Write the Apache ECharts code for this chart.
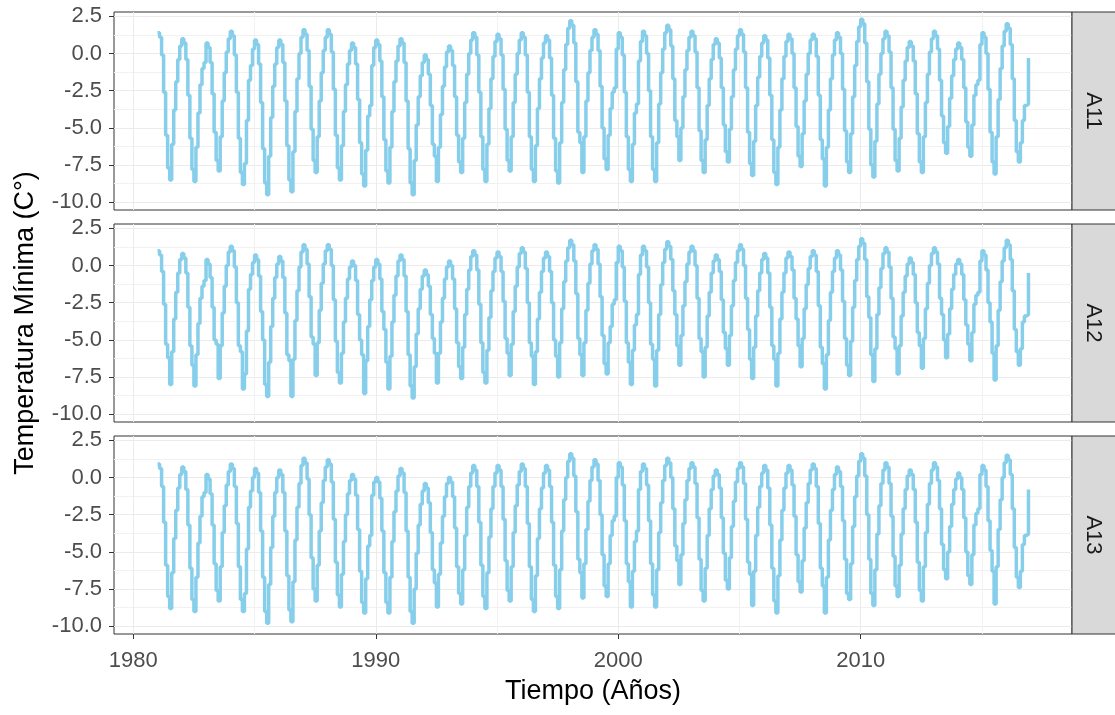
<!DOCTYPE html>
<html>
<head>
<meta charset="utf-8">
<script src="https://cdn.jsdelivr.net/npm/echarts@6/dist/echarts.min.js"></script>
<style>
html,body{margin:0;padding:0;background:#fff;}
#chart{width:1115px;height:715px;}
</style>
</head>
<body>
<div id="chart"></div>
<script>
// ---- data: monthly minimum temperature (°C), one row per year, Jan..Dec ----
const startYear = 1981;
const stations = ['A11', 'A12', 'A13'];
const xTicks = [1980, 1990, 2000, 2010];
const xMinorTicks = [1985, 1995, 2005, 2015];
const yTicks = [-10, -7.5, -5, -2.5, 0, 2.5];
const yMinorTicks = [-8.75, -6.25, -3.75, -1.25, 1.25];

const a11 = [
[1.4,1.1,-0.1,-2.6,-5.5,-7.7,-8.5,-6.1,-3.8,-1.9,-0.4,0.5],
[1.0,0.7,-0.4,-2.8,-5.7,-7.8,-8.6,-6.3,-4.0,-2.1,-1.0,-0.6],
[0.7,0.4,-0.6,-2.7,-5.3,-7.2,-7.9,-5.6,-3.2,-1.3,0.1,1.0],
[1.5,1.2,-0.1,-2.6,-5.7,-8.0,-8.8,-7.4,-4.5,-1.8,-0.8,0.3],
[0.9,0.6,-0.7,-3.3,-6.4,-8.7,-9.5,-6.9,-4.3,-2.2,-0.7,0.4],
[0.9,0.6,-0.6,-3.2,-6.2,-8.5,-9.3,-6.6,-3.9,-1.7,0.0,1.1],
[1.6,1.3,0.2,-2.2,-5.1,-7.2,-8.0,-5.6,-3.2,-1.3,0.2,1.1],
[1.6,1.3,0.1,-2.4,-5.5,-7.7,-8.5,-6.2,-3.9,-2.1,-0.7,0.2],
[0.7,0.4,-0.7,-3.1,-6.0,-8.1,-8.9,-6.5,-4.2,-3.5,-0.8,0.4],
[0.9,0.6,-0.5,-2.9,-5.8,-7.9,-8.7,-6.3,-3.9,-1.9,-0.5,0.5],
[1.0,0.7,-0.6,-3.2,-6.4,-8.7,-9.5,-7.2,-4.8,-2.9,-1.5,-0.6],
[-0.1,-0.4,-1.4,-3.5,-6.1,-6.9,-8.6,-6.3,-4.1,-2.2,-0.9,0.1],
[0.5,0.2,-0.8,-2.9,-5.5,-7.3,-8.0,-5.7,-3.3,-1.4,0.0,0.9],
[1.4,1.1,-0.1,-2.6,-5.6,-7.8,-8.6,-6.1,-3.7,-1.7,-0.2,0.8],
[1.3,1.0,-0.1,-2.4,-5.1,-7.2,-7.9,-5.6,-3.3,-1.4,0.0,0.9],
[1.4,1.1,-0.1,-2.6,-5.6,-7.8,-8.6,-6.2,-3.7,-1.7,-0.3,0.7],
[1.2,0.9,-0.3,-2.8,-5.7,-7.9,-8.7,-6.0,-3.3,-1.1,0.6,1.7],
[2.2,1.9,0.7,-1.9,-5.3,-6.0,-8.0,-5.6,-3.2,-1.3,0.2,1.1],
[1.6,1.3,0.2,-2.2,-5.0,-7.1,-7.8,-5.5,-3.7,-2.6,-2.3,0.3],
[1.4,1.1,-0.1,-2.6,-5.6,-7.8,-8.6,-6.1,-4.0,-3.4,-0.5,0.8],
[1.5,1.2,0.0,-2.5,-5.6,-7.8,-8.6,-6.0,-3.4,-1.3,0.3,1.4],
[1.9,1.6,0.5,-1.7,-4.5,-5.6,-7.2,-5.0,-2.9,-1.1,0.2,1.1],
[1.5,1.2,0.1,-2.3,-5.2,-7.2,-8.0,-5.8,-3.5,-1.7,-0.4,0.6],
[1.0,0.7,-0.3,-2.3,-4.8,-6.6,-7.3,-5.1,-2.9,-1.1,0.3,1.2],
[1.6,1.3,0.1,-2.3,-5.3,-7.4,-8.2,-5.9,-3.5,-1.6,-0.2,0.7],
[1.2,0.9,-0.3,-2.8,-5.8,-8.0,-8.8,-6.3,-3.8,-1.7,-0.2,0.8],
[1.3,1.0,0.0,-2.3,-4.9,-6.9,-7.6,-5.4,-3.2,-1.4,0.0,0.9],
[1.3,1.0,-0.2,-2.8,-5.8,-7.1,-8.9,-6.3,-3.8,-1.7,-0.1,0.9],
[1.4,1.1,0.0,-2.4,-5.2,-7.3,-8.0,-5.4,-2.9,-0.8,0.8,1.8],
[2.3,2.0,0.7,-1.9,-5.1,-7.5,-8.3,-5.9,-3.4,-1.4,0.0,1.0],
[1.5,1.2,0.1,-2.3,-5.1,-7.2,-7.9,-5.7,-3.6,-1.8,-0.5,0.4],
[0.8,0.5,-0.5,-2.7,-5.4,-7.3,-8.0,-5.6,-3.3,-1.4,0.1,1.0],
[1.5,1.2,0.3,-1.8,-4.2,-6.0,-6.7,-4.9,-3.0,-1.5,-0.4,0.3],
[0.7,0.4,-0.4,-2.3,-4.6,-6.3,-6.9,-4.8,-2.8,-2.1,-1.8,0.6],
[1.4,1.1,0.0,-2.4,-5.3,-7.3,-8.1,-5.6,-3.1,-1.0,0.5,1.5],
[2.0,1.7,0.6,-1.7,-4.5,-6.6,-7.3,-6.0,-4.5,-3.5,-3.4,-0.3]
];

const a12 = [
[1.0,0.7,-0.4,-2.6,-5.3,-6.2,-8.0,-5.8,-3.6,-1.8,-0.5,0.4],
[0.8,0.5,-0.5,-2.8,-5.4,-6.7,-8.1,-6.0,-3.9,-2.2,-1.4,-1.0],
[0.4,0.1,-0.8,-2.8,-5.0,-5.3,-7.6,-5.4,-3.2,-1.4,0.0,0.9],
[1.3,1.0,-0.1,-2.5,-5.4,-5.8,-8.3,-7.3,-4.4,-1.6,-0.6,0.2],
[0.7,0.4,-0.7,-3.1,-5.0,-8.0,-8.8,-6.5,-4.1,-2.2,-0.8,0.1],
[0.6,0.3,-0.8,-3.2,-6.0,-6.4,-8.8,-6.3,-3.7,-1.7,-0.1,0.9],
[1.4,1.1,0.1,-2.1,-4.8,-5.3,-7.4,-5.2,-3.0,-1.2,0.1,1.0],
[1.4,1.1,0.0,-2.3,-5.1,-7.2,-7.9,-5.9,-3.8,-2.2,-0.9,-0.1],
[0.3,0.0,-1.0,-3.3,-5.0,-6.0,-8.6,-6.4,-4.1,-2.3,-1.0,-0.1],
[0.4,0.1,-0.9,-3.1,-4.3,-6.5,-8.3,-6.1,-3.8,-2.0,-0.7,0.3],
[0.7,0.4,-0.7,-3.1,-6.0,-8.1,-8.9,-6.8,-4.6,-2.9,-1.6,-0.7],
[-0.3,-0.6,-1.4,-3.3,-4.9,-5.9,-7.9,-5.9,-3.8,-2.2,-0.9,-0.1],
[0.3,0.0,-0.9,-2.9,-5.2,-6.8,-7.6,-5.5,-3.3,-1.6,-0.3,0.6],
[1.0,0.7,-0.3,-2.6,-5.2,-7.2,-7.9,-5.7,-3.5,-1.7,-0.4,0.5],
[0.9,0.6,-0.4,-2.4,-4.9,-5.9,-7.4,-5.3,-3.1,-1.4,-0.1,0.8],
[1.2,0.9,-0.2,-2.5,-5.2,-6.1,-8.0,-5.8,-3.6,-1.8,-0.4,0.5],
[0.9,0.6,-0.4,-2.5,-5.0,-6.1,-7.5,-5.2,-2.9,-1.1,0.3,1.2],
[1.7,1.4,0.3,-1.9,-4.9,-6.0,-7.4,-5.2,-3.0,-1.2,0.1,1.0],
[1.4,1.1,0.1,-2.1,-4.7,-6.6,-7.3,-5.2,-4.1,-2.6,-2.3,0.2],
[1.3,1.0,-0.1,-2.4,-5.2,-6.5,-8.0,-5.7,-4.0,-3.3,-0.6,0.7],
[1.3,1.0,-0.1,-2.5,-5.3,-6.3,-8.1,-5.7,-3.3,-1.3,0.2,1.1],
[1.6,1.3,0.4,-1.7,-3.3,-5.4,-6.7,-4.7,-2.7,-1.1,0.1,0.9],
[1.3,1.0,0.0,-2.2,-4.9,-5.8,-7.5,-5.5,-3.4,-1.8,-0.5,0.3],
[0.7,0.4,-0.4,-2.3,-4.5,-5.6,-6.7,-4.7,-2.7,-1.0,0.2,1.0],
[1.4,1.1,0.0,-2.2,-4.3,-6.3,-7.6,-5.5,-3.4,-1.7,-0.5,0.4],
[0.8,0.5,-0.5,-2.8,-5.4,-6.3,-8.1,-5.9,-3.6,-1.8,-0.5,0.5],
[0.9,0.6,-0.3,-2.2,-3.6,-5.4,-6.8,-4.9,-2.9,-1.3,-0.2,0.6],
[1.0,0.7,-0.4,-2.7,-5.5,-6.6,-8.3,-6.0,-3.7,-1.8,-0.4,0.5],
[1.0,0.7,-0.3,-2.4,-4.9,-6.7,-7.4,-5.1,-2.8,-1.0,0.4,1.3],
[1.8,1.5,0.4,-2.1,-3.5,-6.0,-7.8,-5.6,-3.3,-1.5,-0.2,0.8],
[1.2,0.9,-0.1,-2.2,-4.8,-5.6,-7.3,-5.4,-3.4,-1.8,-0.7,0.1],
[0.5,0.2,-0.6,-2.5,-4.5,-5.4,-6.9,-4.9,-2.9,-1.2,0.0,0.8],
[1.2,0.9,0.1,-2.2,-3.3,-5.0,-6.2,-4.6,-2.9,-1.6,-0.6,0.1],
[0.4,0.1,-0.6,-2.3,-4.0,-5.3,-6.4,-4.5,-2.6,-2.0,-1.8,0.3],
[1.0,0.7,-0.3,-2.5,-3.8,-5.9,-7.7,-5.4,-3.0,-1.1,0.3,1.2],
[1.7,1.4,0.4,-1.7,-4.3,-5.8,-6.7,-5.6,-3.8,-3.4,-3.3,-0.5]
];

const a13 = [
[0.9,0.6,-0.6,-3.0,-5.9,-8.0,-8.8,-6.4,-4.1,-2.2,-0.7,0.2],
[0.7,0.4,-0.8,-3.2,-6.1,-8.2,-9.0,-6.7,-4.4,-2.6,-1.3,-1.0],
[0.2,-0.1,-1.1,-3.2,-5.8,-7.6,-8.3,-6.0,-3.7,-1.9,-0.5,0.4],
[0.9,0.6,-0.6,-3.1,-6.0,-8.2,-9.0,-7.8,-4.8,-2.0,-0.9,0.0],
[0.6,0.3,-1.0,-3.6,-6.7,-9.0,-9.8,-7.2,-4.7,-2.6,-1.0,0.0],
[0.5,0.2,-1.0,-3.6,-6.6,-8.9,-9.7,-7.0,-4.2,-2.0,-0.4,0.8],
[1.3,1.0,-0.1,-2.5,-5.4,-7.5,-8.3,-5.9,-3.6,-1.7,-0.2,0.7],
[1.2,0.9,-0.3,-2.8,-5.7,-7.9,-8.7,-6.5,-4.3,-2.5,-1.1,-0.2],
[0.2,-0.1,-1.2,-3.5,-6.3,-8.4,-9.1,-6.8,-4.6,-3.9,-1.2,-0.3],
[0.0,-0.3,-1.4,-3.6,-6.4,-8.4,-9.1,-6.7,-4.3,-2.3,-0.9,0.1],
[0.6,0.3,-1.0,-3.6,-6.7,-9.0,-9.8,-7.5,-5.1,-3.2,-1.8,-0.9],
[-0.4,-0.7,-1.7,-3.7,-6.2,-7.1,-8.7,-6.5,-4.4,-2.6,-1.3,-0.4],
[0.0,-0.3,-1.3,-3.4,-6.0,-7.8,-8.5,-6.2,-3.9,-2.0,-0.6,0.3],
[0.8,0.5,-0.6,-3.0,-5.9,-8.0,-8.8,-6.4,-4.0,-2.1,-0.6,0.3],
[0.8,0.5,-0.6,-2.8,-5.6,-7.6,-8.3,-6.0,-3.7,-1.9,-0.5,0.4],
[0.9,0.6,-0.6,-3.1,-6.0,-8.2,-9.0,-6.6,-4.1,-2.1,-0.7,0.3],
[0.8,0.5,-0.6,-3.0,-5.9,-8.0,-8.8,-6.2,-3.6,-1.5,0.0,1.1],
[1.6,1.3,0.1,-2.3,-5.5,-6.4,-8.1,-5.8,-3.5,-1.6,-0.2,0.7],
[1.2,0.9,-0.2,-2.5,-5.2,-7.3,-8.0,-5.8,-3.9,-2.9,-2.6,0.0],
[1.0,0.7,-0.5,-2.9,-5.8,-7.0,-8.7,-6.3,-4.3,-3.6,-0.8,0.4],
[0.9,0.6,-0.5,-2.9,-5.8,-7.9,-8.7,-6.2,-3.7,-1.7,-0.2,0.8],
[1.3,1.0,0.0,-2.1,-4.6,-5.6,-7.2,-5.2,-3.1,-1.5,-0.2,0.6],
[1.0,0.7,-0.4,-2.7,-5.5,-7.6,-8.3,-6.1,-3.9,-2.1,-0.8,0.1],
[0.5,0.2,-0.7,-2.7,-5.1,-6.9,-7.5,-5.4,-3.3,-1.6,-0.3,0.6],
[1.0,0.7,-0.4,-2.8,-5.7,-6.5,-8.6,-6.3,-3.9,-2.0,-0.6,0.3],
[0.8,0.5,-0.7,-3.2,-6.1,-8.3,-9.1,-6.6,-4.2,-2.2,-0.7,0.3],
[0.8,0.5,-0.5,-2.6,-5.2,-7.0,-7.7,-5.6,-3.4,-1.7,-0.4,0.5],
[0.9,0.6,-0.6,-3.1,-6.1,-7.3,-9.1,-6.7,-4.2,-2.2,-0.8,0.2],
[0.7,0.4,-0.6,-2.9,-5.5,-7.8,-8.2,-5.8,-3.3,-1.3,0.1,1.1],
[1.6,1.3,0.1,-2.5,-5.5,-7.8,-8.6,-6.2,-3.8,-1.9,-0.4,0.5],
[1.0,0.7,-0.4,-2.6,-5.3,-7.3,-8.0,-5.9,-3.8,-2.1,-0.8,0.1],
[0.5,0.2,-0.8,-3.0,-5.7,-7.6,-8.3,-6.0,-3.7,-1.8,-0.4,0.5],
[1.0,0.7,-0.2,-2.1,-4.5,-6.2,-6.8,-5.0,-3.3,-1.8,-0.8,-0.1],
[0.3,0.0,-0.8,-2.7,-5.0,-6.6,-7.2,-5.2,-3.2,-2.4,-2.1,0.2],
[0.8,0.5,-0.6,-2.9,-4.9,-6.3,-8.5,-6.0,-3.5,-1.5,0.0,1.0],
[1.5,1.2,0.2,-2.1,-4.7,-6.7,-7.4,-6.3,-4.5,-3.9,-3.8,-0.8]
];

// ---- build ----
const seriesRows = [a11, a12, a13];
function toPoints(rows) {
  const out = [];
  rows.forEach((row, yi) => row.forEach((v, m) => out.push([startYear + yi + m / 12, v])));
  return out;
}

const FONT = '"Liberation Sans", Arial, sans-serif';
const xMin = 1979.204, xMax = 2018.713;
const yMin = -10.52, yMax = 2.79;
const left = 114, plotW = 958, panelH = 198;
const tops = [12, 224, 436];
const gridColor = '#ebebeb';

const grids = [], xAxes = [], yAxes = [], series = [], graphics = [];
tops.forEach((top, i) => {
  const last = i === tops.length - 1;
  grids.push({ left: left, top: top, width: plotW, height: panelH, show: true,
    borderColor: '#333333', borderWidth: 1, backgroundColor: '#ffffff' });
  // major x
  xAxes.push({ type: 'value', gridIndex: i, min: xMin, max: xMax, position: 'bottom',
    axisLine: { show: false, onZero: false },
    axisTick: { show: last, customValues: xTicks, length: 5, lineStyle: { color: '#333333', width: 1 } },
    axisLabel: { show: last, customValues: xTicks, color: '#4d4d4d', fontSize: 22, fontFamily: FONT, margin: 16,
      formatter: v => String(v) },
    splitLine: { show: true, lineStyle: { color: gridColor, width: 1 } },
    name: last ? 'Tiempo (Años)' : '', nameLocation: 'middle', nameGap: 44,
    nameTextStyle: { color: '#000', fontSize: 27, fontFamily: FONT }
  });
  // minor x
  xAxes.push({ type: 'value', gridIndex: i, min: xMin, max: xMax, position: 'bottom',
    axisLine: { show: false, onZero: false },
    axisTick: { show: false, customValues: xMinorTicks },
    axisLabel: { show: false },
    splitLine: { show: true, lineStyle: { color: '#f1f1f1', width: 1 } }
  });
  // major y
  yAxes.push({ type: 'value', gridIndex: i, min: yMin, max: yMax, position: 'left',
    axisLine: { show: false, onZero: false },
    axisTick: { show: true, customValues: yTicks, length: 5, lineStyle: { color: '#333333', width: 1 } },
    axisLabel: { customValues: yTicks, color: '#4d4d4d', fontSize: 22, fontFamily: FONT, margin: 12,
      formatter: v => v.toFixed(1) },
    splitLine: { show: true, lineStyle: { color: gridColor, width: 1 } },
    name: i === 1 ? 'Temperatura Mínima (C°)' : '', nameLocation: 'middle', nameGap: 75,
    nameTextStyle: { color: '#000', fontSize: 27, fontFamily: FONT }
  });
  // minor y
  yAxes.push({ type: 'value', gridIndex: i, min: yMin, max: yMax, position: 'left',
    axisLine: { show: false, onZero: false },
    axisTick: { show: false, customValues: yMinorTicks },
    axisLabel: { show: false },
    splitLine: { show: true, lineStyle: { color: '#f1f1f1', width: 1 } }
  });
  series.push({ type: 'line', name: stations[i], xAxisIndex: 2 * i, yAxisIndex: 2 * i,
    data: toPoints(seriesRows[i]), step: 'end', showSymbol: false, symbol: 'none',
    lineStyle: { color: '#87ceeb', width: 3.5 }, z: 3, silent: true });
  // strip
  graphics.push({ type: 'rect', shape: { x: left + plotW, y: top, width: 50, height: panelH },
    style: { fill: '#d9d9d9', stroke: '#333333', lineWidth: 1 }, z: 10 });
  graphics.push({ type: 'text', x: left + plotW + 21.5, y: top + panelH / 2, rotation: -Math.PI / 2,
    style: { text: stations[i], fill: '#1a1a1a', fontSize: 22, fontFamily: FONT, align: 'center', verticalAlign: 'middle' }, z: 11 });
});

const chart = echarts.init(document.getElementById('chart'), null, { renderer: 'canvas' });
chart.setOption({
  animation: false,
  backgroundColor: '#ffffff',
  grid: grids, xAxis: xAxes, yAxis: yAxes, series: series, graphic: graphics
});
</script>
</body>
</html>
